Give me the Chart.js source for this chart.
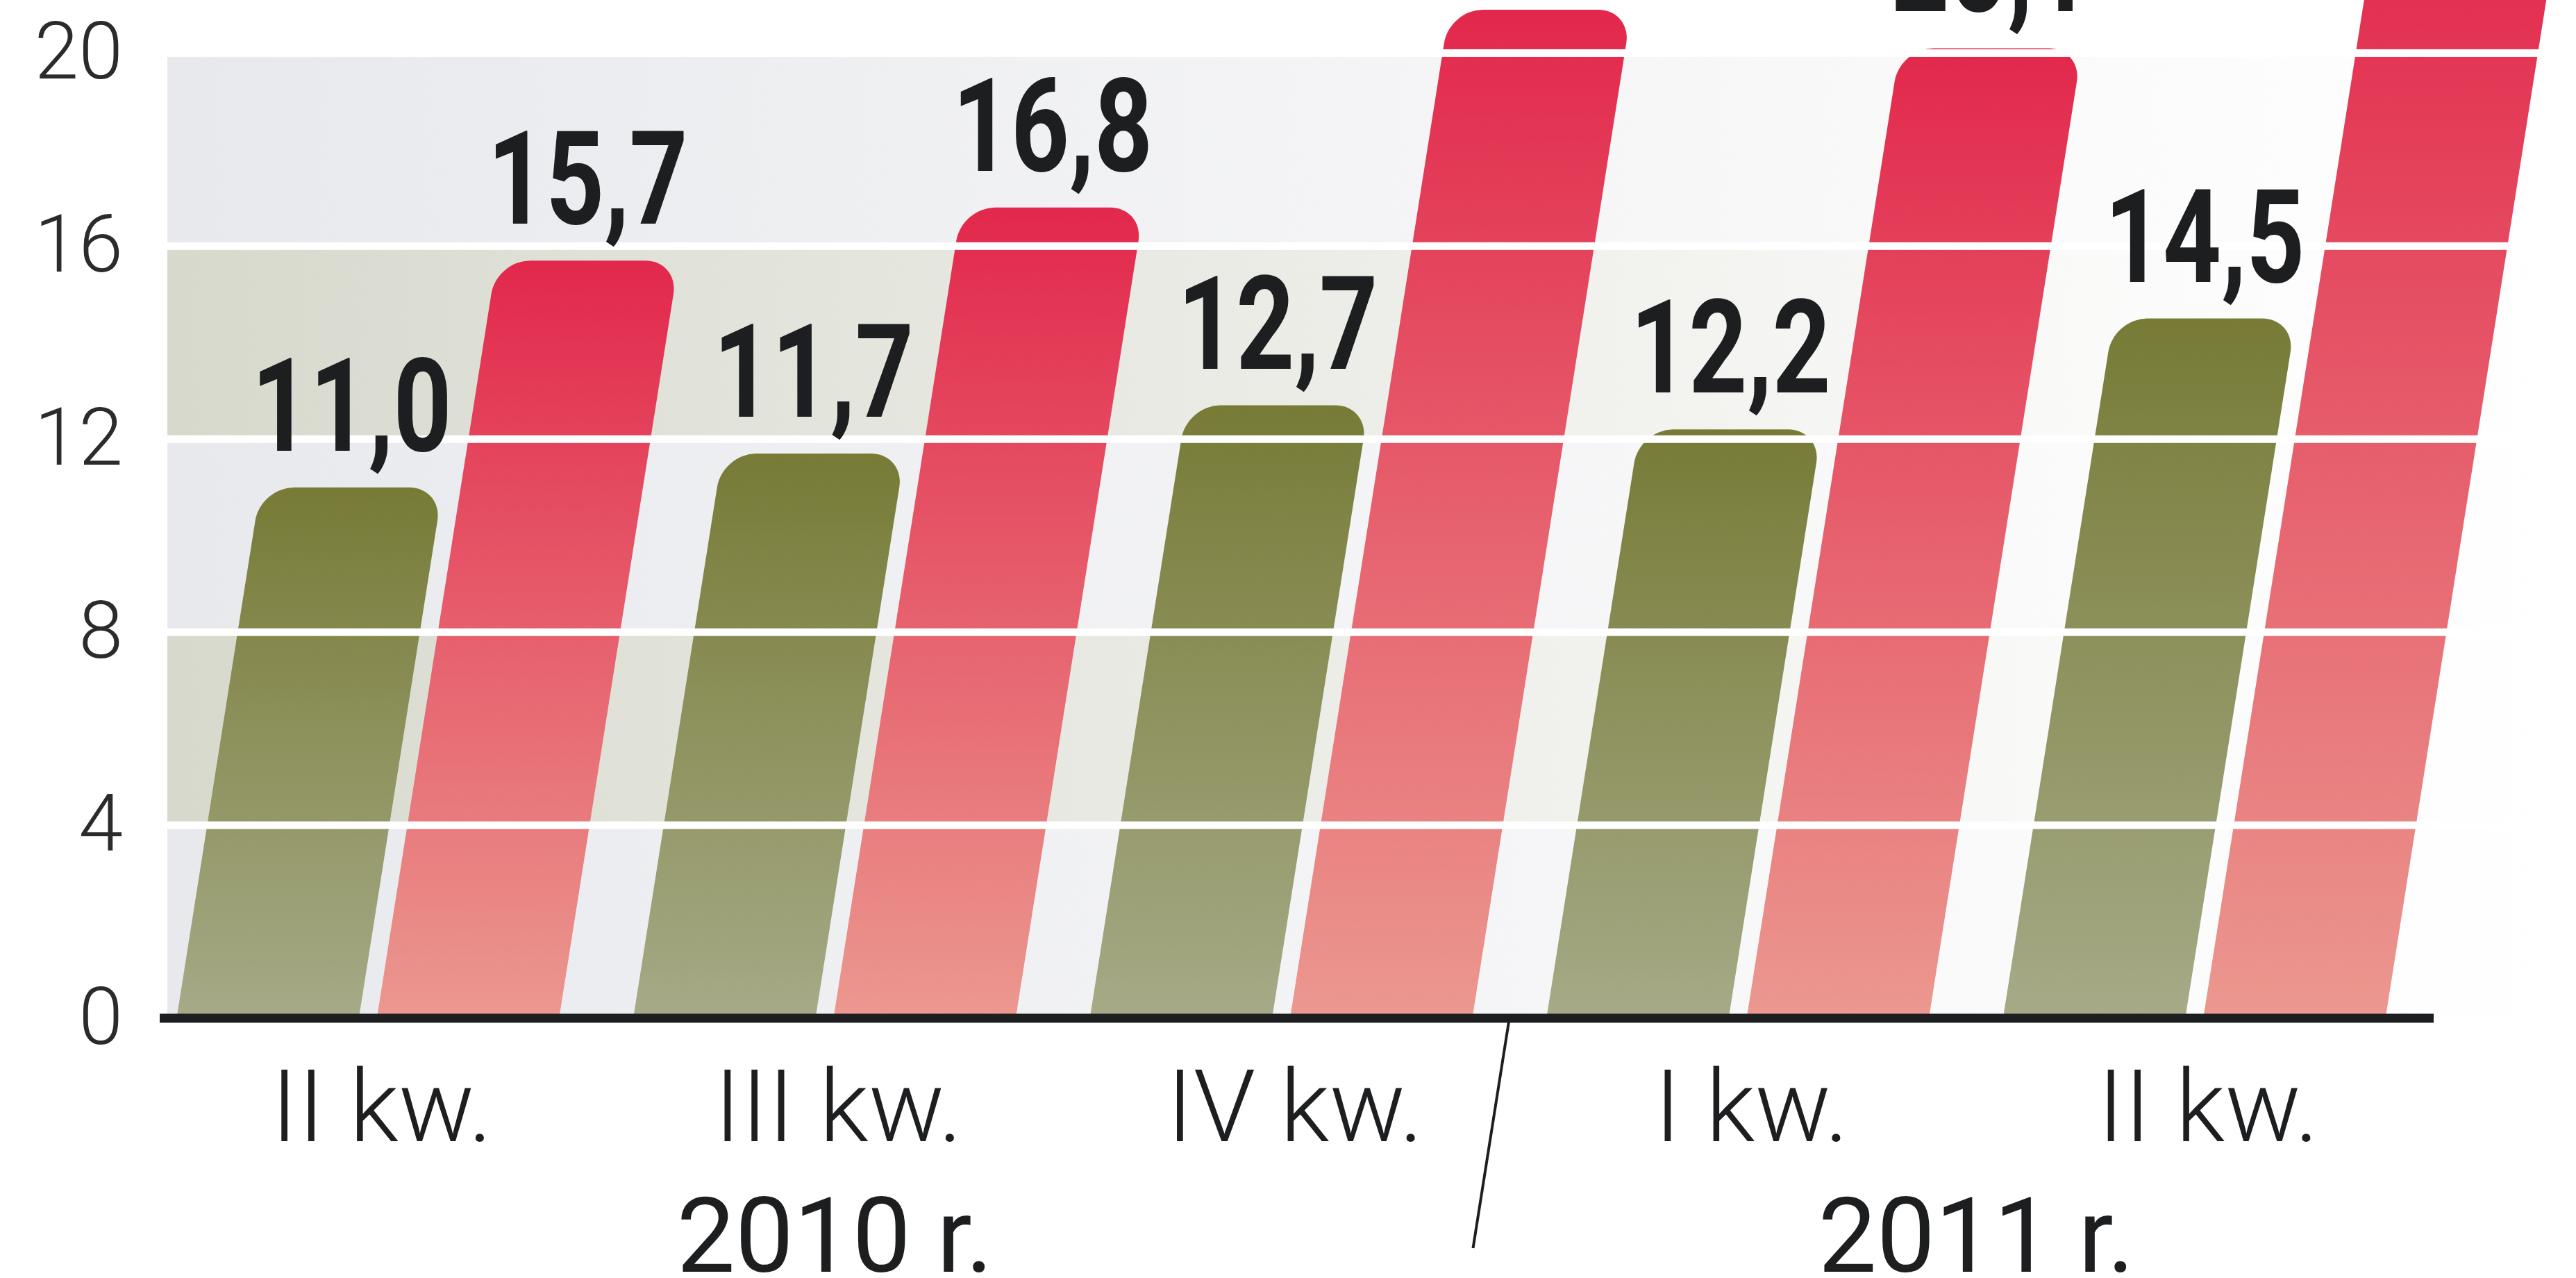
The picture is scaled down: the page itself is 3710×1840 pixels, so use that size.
<!DOCTYPE html>
<html>
<head>
<meta charset="utf-8">
<script src="https://cdn.jsdelivr.net/npm/chart.js@4.4.1/dist/chart.umd.min.js"></script>
<style>
  html, body { margin: 0; padding: 0; background: #ffffff; }
  #c { display: block; }
</style>
</head>
<body>
<canvas id="c" width="3710" height="1840"></canvas>
<script>
// ---- data ----
const categories = ['II kw.', 'III kw.', 'IV kw.', 'I kw.', 'II kw.'];
const greenValues = [11.0, 11.7, 12.7, 12.2, 14.5];
const redValues = [15.7, 16.8, 20.9, 20.1, 22.8];
const yTickValues = [0, 4, 8, 12, 16, 20];
const yearLabels = ['2010 r.', '2011 r.'];
const yearSpans = [[0, 2], [3, 4]];

// ---- style ----
const SHEAR = 0.158;
const GREEN_TOP = '#777b36', GREEN_BOTTOM = '#a6aa87';
const RED_TOP = '#e2284c', RED_BOTTOM = '#eb988f';
const BAND_A = '#e8e9ed', BAND_B = '#d8d9cd';
const INK = '#1d1e20';

function barGradient(top, bottom) {
  return (c) => {
    const chart = c.chart;
    const ys = chart.scales && chart.scales.y;
    if (!ys || c.type !== 'data' || !chart.chartArea) return bottom;
    const yt = ys.getPixelForValue(c.raw);
    const yb = ys.getPixelForValue(0);
    const g = chart.ctx.createLinearGradient(0, yt, 0, yb);
    g.addColorStop(0, top);
    g.addColorStop(1, bottom);
    return g;
  };
}

const fmt = v => v.toFixed(1).replace('.', ',');

const backgroundPlugin = {
  id: 'bands',
  beforeDatasetsDraw(chart) {
    const { ctx, chartArea } = chart;
    const ys = chart.scales.y;
    const x0 = chartArea.left + 40;
    const x1 = chart.width;
    ctx.save();
    for (let i = 0; i < yTickValues.length - 1; i++) {
      const yb = ys.getPixelForValue(yTickValues[i]);
      const yt = ys.getPixelForValue(yTickValues[i + 1]);
      const base = i % 2 === 0 ? BAND_A : BAND_B;
      const g = ctx.createLinearGradient(x0, 0, x1, 0);
      g.addColorStop(0, base);
      g.addColorStop(0.85, '#fcfcfc');
      g.addColorStop(1, '#ffffff');
      ctx.fillStyle = g;
      ctx.fillRect(x0, yt, x1 - x0, yb - yt);
    }
    ctx.restore();
  }
};

const shearPlugin = {
  id: 'shear',
  beforeDatasetsDraw(chart) {
    const ctx = chart.ctx;
    const y0 = chart.scales.y.getPixelForValue(0);
    ctx.save();
    ctx.transform(1, 0, -SHEAR, 1, SHEAR * y0, 0);
  },
  afterDatasetsDraw(chart) {
    const ctx = chart.ctx;
    ctx.restore();
    const { chartArea } = chart;
    const ys = chart.scales.y, xs = chart.scales.x;
    const y0 = ys.getPixelForValue(0);

    // white grid lines over the bars
    ctx.save();
    ctx.fillStyle = '#ffffff';
    yTickValues.forEach(v => {
      if (v === 0) return;
      const y = ys.getPixelForValue(v);
      ctx.fillRect(chartArea.left + 40, y - 5.5, chart.width, 11);
    });

    // zero axis line
    ctx.fillStyle = INK;
    ctx.fillRect(chartArea.left + 29, y0 - 6.5, chartArea.right - chartArea.left - 13, 13);

    // separator between years
    const xm = (xs.getPixelForValue(2) + xs.getPixelForValue(3)) / 2;
    const len = 331;
    ctx.strokeStyle = INK;
    ctx.lineWidth = 4;
    ctx.beginPath();
    ctx.moveTo(xm, y0);
    ctx.lineTo(xm - SHEAR * len, y0 + len);
    ctx.stroke();

    // value labels (condensed bold)
    ctx.fillStyle = INK;
    ctx.font = 'bold 188px Roboto, "Liberation Sans", sans-serif';
    ctx.textAlign = 'center';
    ctx.textBaseline = 'alphabetic';
    const SX = 0.78;
    chart.data.datasets.forEach((ds, di) => {
      chart.getDatasetMeta(di).data.forEach((el, i) => {
        const xt = el.x + SHEAR * (y0 - el.y);
        ctx.save();
        ctx.translate(xt, el.y - 53);
        ctx.scale(SX, 1);
        ctx.fillText(fmt(ds.data[i]), 0, 0);
        ctx.restore();
      });
    });

    // year labels
    ctx.font = '400 150px Roboto, sans-serif';
    yearLabels.forEach((t, i) => {
      const [a, b] = yearSpans[i];
      const xc = (xs.getPixelForValue(a) + xs.getPixelForValue(b)) / 2 + 15;
      ctx.fillText(t, xc, 1831);
    });
    ctx.restore();
  }
};

new Chart(document.getElementById('c'), {
  type: 'bar',
  data: {
    labels: categories,
    datasets: [
      {
        data: greenValues,
        backgroundColor: barGradient(GREEN_TOP, GREEN_BOTTOM),
        borderRadius: { topLeft: 48, topRight: 48, bottomLeft: 0, bottomRight: 0 },
        borderSkipped: 'start',
        borderWidth: 0,
        categoryPercentage: 0.877,
        barPercentage: 0.91,
        clip: false
      },
      {
        data: redValues,
        backgroundColor: barGradient(RED_TOP, RED_BOTTOM),
        borderRadius: { topLeft: 48, topRight: 48, bottomLeft: 0, bottomRight: 0 },
        borderSkipped: 'start',
        borderWidth: 0,
        categoryPercentage: 0.877,
        barPercentage: 0.91,
        clip: false
      }
    ]
  },
  options: {
    responsive: false,
    animation: false,
    events: [],
    devicePixelRatio: 1,
    layout: { padding: { top: 0, right: 221, bottom: 0, left: 0 } },
    plugins: { legend: { display: false }, tooltip: { enabled: false }, title: { display: false } },
    scales: {
      x: {
        grid: { display: false, drawTicks: false },
        border: { display: false },
        ticks: {
          color: INK,
          font: { family: 'Roboto', weight: 300, size: 145 },
          padding: 54,
          labelOffset: 20,
          maxRotation: 0,
          autoSkip: false
        },
        afterFit: s => { s.height = 374; s.paddingLeft = 0; s.paddingRight = 0; }
      },
      y: {
        min: 0,
        max: 21.1,
        grid: { display: false, drawTicks: false },
        border: { display: false },
        ticks: {
          stepSize: 4,
          includeBounds: false,
          autoSkip: false,
          color: '#2a2b2d',
          font: { family: 'Roboto', weight: 300, size: 115 },
          padding: 24,
          labelOffset: 8,
          callback: v => String(v)
        },
        afterBuildTicks: s => { s.ticks = s.ticks.filter(t => yTickValues.includes(t.value)); },
        afterFit: s => { s.width = 201; s.paddingTop = 0; s.paddingBottom = 0; }
      }
    }
  },
  plugins: [backgroundPlugin, shearPlugin]
});
</script>
</body>
</html>
